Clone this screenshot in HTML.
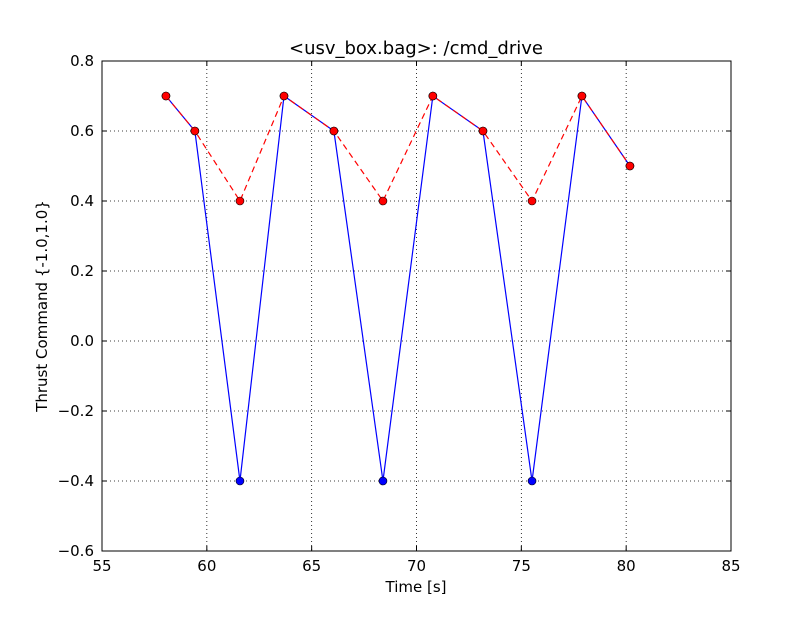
<!DOCTYPE html>
<html><head><meta charset="utf-8"><style>
body{margin:0;background:#fff;}
svg text{font-family:"DejaVu Sans","Liberation Sans",sans-serif;}
</style></head><body>
<svg id="chart" width="812" height="612" xmlns="http://www.w3.org/2000/svg">
<rect width="812" height="612" fill="#fff"/>
<g id="grid"></g>
<g id="series"></g>
<rect x="102" y="61" width="629" height="490" fill="none" stroke="#000" stroke-width="1"/>
<g id="ticks"></g>
<text x="416" y="54" text-anchor="middle" font-size="18">&lt;usv_box.bag&gt;: /cmd_drive</text>
<text x="416" y="592" text-anchor="middle" font-size="15">Time [s]</text>
<text transform="translate(47,306) rotate(-90)" text-anchor="middle" font-size="15">Thrust Command {-1.0,1.0}</text>
</svg>
<script>
const times=[58.05,59.43,61.58,63.68,66.06,68.40,70.78,73.17,75.51,77.89,80.18];
const blueVals=[0.7,0.6,-0.4,0.7,0.6,-0.4,0.7,0.6,-0.4,0.7,0.5];
const redVals=[0.7,0.6,0.4,0.7,0.6,0.4,0.7,0.6,0.4,0.7,0.5];
const xTicks=[55,60,65,70,75,80,85];
const yTicks=[-0.6,-0.4,-0.2,0.0,0.2,0.4,0.6,0.8];
const X0=102,X1=731,Y0=551,Y1=61;
const xs=v=>X0+(v-55)/30*(X1-X0);
const ys=v=>Y0-(v+0.6)/1.4*(Y0-Y1);
const NS='http://www.w3.org/2000/svg';
function mk(tag,attrs,parent){const e=document.createElementNS(NS,tag);for(const k in attrs)e.setAttribute(k,attrs[k]);parent.appendChild(e);return e;}
const grid=document.getElementById('grid'),ticks=document.getElementById('ticks'),ser=document.getElementById('series');
xTicks.forEach(t=>{const x=xs(t);
 if(t>55&&t<85){const g=mk('line',{x1:x,x2:x,y1:Y1,y2:Y0,stroke:'#000','stroke-dasharray':'1,3','stroke-width':0.8},grid);
 
 }
 mk('line',{x1:x,x2:x,y1:Y0,y2:Y0-5,stroke:'#000'},ticks);
 mk('line',{x1:x,x2:x,y1:Y1,y2:Y1+5,stroke:'#000'},ticks);
 const tx=mk('text',{x:x,y:Y0+20,'text-anchor':'middle','font-size':15},ticks);tx.textContent=t;
 
 
});
yTicks.forEach(t=>{const y=ys(t);
 if(t>-0.6&&t<0.8){const g=mk('line',{x1:X0,x2:X1,y1:y,y2:y,stroke:'#000','stroke-dasharray':'1,3','stroke-width':0.8},grid);
 
 }
 mk('line',{x1:X0,x2:X0+5,y1:y,y2:y,stroke:'#000'},ticks);
 mk('line',{x1:X1,x2:X1-5,y1:y,y2:y,stroke:'#000'},ticks);
 const tx=mk('text',{x:X0-8,y:y+5,'text-anchor':'end','font-size':15},ticks);tx.textContent=t.toFixed(1).replace('-','\u2212');
 
 
});
function draw(vals,color,dash,name){
 const pts=times.map((t,i)=>xs(t)+','+ys(vals[i])).join(' ');
 const l=mk('polyline',{points:pts,fill:'none',stroke:color,'stroke-width':1.2},ser);
 if(dash)l.setAttribute('stroke-dasharray',dash);
 
 
 return l;
}
function dots(vals,color,name){
 times.forEach((t,i)=>{const c=mk('circle',{cx:xs(t),cy:ys(vals[i]),r:4,fill:color,stroke:'#000','stroke-width':0.6},ser);
 
 });
}
draw(blueVals,'#0000ff',null,'blue-series');
dots(blueVals,'#0000ff','blue-series');
draw(redVals,'#ff0000','6,4','red-series');
dots(redVals,'#ff0000','red-series');
</script>
</body></html>
